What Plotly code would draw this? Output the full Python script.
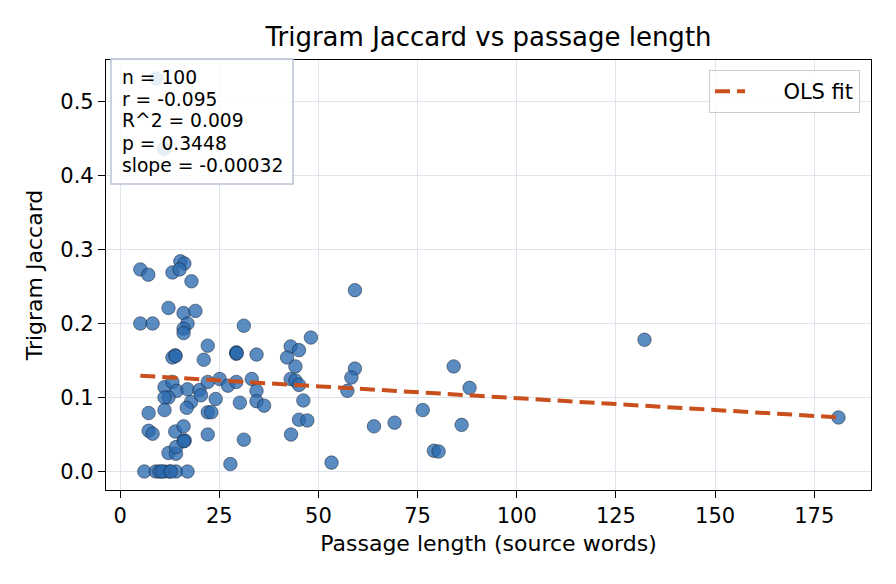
import numpy as np
import plotly.graph_objects as go

# ---- data ----
passage_len = [
    5.1, 7.1, 13.2, 15.2, 16.2, 15.0, 18.0, 12.2, 16.0, 19.0,
    5.1, 8.2, 17.0, 16.0, 16.0, 13.9, 13.2, 22.1, 21.1, 11.2,
    13.2, 14.3, 17.0, 20.0, 22.1, 25.1, 12.2, 11.2, 17.9, 20.4,
    16.8, 24.1, 7.2, 11.2, 22.1, 23.0, 7.2, 8.2, 13.9, 16.0,
    16.0, 16.3, 22.1, 12.2, 14.1, 14.1, 6.1, 9.0, 9.9, 11.1,
    12.4, 14.1, 17.0, 27.8, 31.2, 29.3, 29.3, 34.4, 43.0, 45.1,
    42.1, 48.1, 44.2, 27.2, 29.3, 33.2, 34.4, 34.4, 36.3, 30.2,
    31.2, 43.0, 44.2, 45.1, 46.2, 45.1, 47.2, 43.1, 53.3, 59.2,
    58.3, 57.3, 64.0, 69.2, 76.3, 79.1, 80.3, 84.1, 88.1, 86.1,
    59.2, 132.2, 181.1, 9.1, 11.1, 10.5, 12.8, 14.0, 16.1, 29.4,
]
jaccard = [
    0.273, 0.266, 0.269, 0.284, 0.281, 0.273, 0.257, 0.221, 0.214, 0.217,
    0.200, 0.200, 0.200, 0.193, 0.187, 0.157, 0.154, 0.170, 0.151, 0.114,
    0.121, 0.109, 0.111, 0.110, 0.121, 0.125, 0.100, 0.100, 0.094, 0.103,
    0.086, 0.098, 0.079, 0.083, 0.080, 0.080, 0.055, 0.051, 0.054, 0.061,
    0.041, 0.042, 0.050, 0.025, 0.024, 0.033, 0.000, 0.000, 0.000, 0.000,
    0.000, 0.000, 0.000, 0.010, 0.197, 0.161, 0.159, 0.158, 0.169, 0.164,
    0.154, 0.181, 0.142, 0.116, 0.121, 0.125, 0.109, 0.095, 0.089, 0.093,
    0.043, 0.125, 0.123, 0.117, 0.096, 0.070, 0.069, 0.050, 0.012, 0.139,
    0.127, 0.109, 0.061, 0.066, 0.083, 0.028, 0.027, 0.142, 0.113, 0.063,
    0.245, 0.178, 0.073, 0.531, 0.436, 0.000, 0.000, 0.156, 0.041, 0.160,
]

n_obs = 100
r_val = -0.095
r2_val = 0.009
p_val = 0.3448
fit_slope = -0.00032
fit_intercept = 0.1311

x_ticks = [0, 25, 50, 75, 100, 125, 150, 175]
y_ticks = [0.0, 0.1, 0.2, 0.3, 0.4, 0.5]
y_tick_text = ["0.0", "0.1", "0.2", "0.3", "0.4", "0.5"]

FONT = "DejaVu Sans"

fig = go.Figure()
fig.add_trace(go.Scatter(
    x=passage_len, y=jaccard, mode="markers", showlegend=False,
    marker=dict(size=13.5, color="rgba(44,106,176,0.78)",
                line=dict(color="rgba(20,30,50,0.85)", width=0.6)),
))
xs = np.array([min(passage_len), max(passage_len)])
fig.add_trace(go.Scatter(
    x=xs, y=fit_intercept + fit_slope * xs, mode="lines",
    name="\u00a0\u00a0\u00a0\u00a0\u00a0OLS fit",
    line=dict(color="#c9501c", width=4, dash="15px,7px"),
))

stats_lines = [
    f"n = {n_obs}",
    f"r = {r_val:.3f}",
    f"R^2 = {r2_val:.3f}",
    f"p = {p_val:.4f}",
    f"slope = {fit_slope:.5f}",
]

# stats box (pixel layout: plot area x 106..871, y 60..490)
PL, PR, PT, PB = 106, 871, 60, 490
def px_x(p):
    return (p - PL) / (PR - PL)
def px_y(p):
    return (PB - p) / (PB - PT)

fig.add_shape(
    type="rect", xref="paper", yref="paper", layer="above",
    x0=px_x(111), x1=px_x(293), y0=px_y(184), y1=px_y(59),
    fillcolor="rgba(255,255,255,0.85)", line=dict(color="#b8c4d6", width=1.5),
)
for i, line in enumerate(stats_lines):
    fig.add_annotation(
        xref="paper", yref="paper", x=px_x(120), y=px_y(77 + 22 * i),
        xanchor="left", yanchor="middle", showarrow=False, align="left",
        text=line, font=dict(family=FONT, size=18.7, color="black"),
    )

axis_common = dict(
    showline=True, linecolor="black", linewidth=1.2, mirror=True,
    ticks="outside", ticklen=7, tickwidth=1.2, tickcolor="black",
    showgrid=True, gridcolor="#dfe5ee", gridwidth=1.2, zeroline=False,
    tickfont=dict(family=FONT, size=21, color="black"),
)

fig.update_layout(
    width=896, height=584,
    margin=dict(l=PL, r=896 - PR, t=PT, b=584 - PB),
    paper_bgcolor="white", plot_bgcolor="white",
    font=dict(family=FONT, color="black"),
    title=dict(text="Trigram Jaccard vs passage length", x=0.5, xref="paper",
               y=1 - 37 / 584, yref="container", xanchor="center", yanchor="middle",
               font=dict(family=FONT, size=26, color="black")),
    xaxis=dict(range=[-3.55, 189.3], tickvals=x_ticks,
               title=dict(text="Passage length (source words)", standoff=8,
                          font=dict(family=FONT, size=22, color="black")),
               **axis_common),
    yaxis=dict(range=[-0.025, 0.556], tickvals=y_ticks, ticktext=y_tick_text,
               title=dict(text="Trigram Jaccard", standoff=11,
                          font=dict(family=FONT, size=22, color="black")),
               **axis_common),
    legend=dict(x=px_x(860), y=px_y(70), xanchor="right", yanchor="top",
                bgcolor="rgba(255,255,255,0.85)", bordercolor="#cccccc", borderwidth=1,
                font=dict(family=FONT, size=21, color="black")),
)

fig.write_html("out.html")
